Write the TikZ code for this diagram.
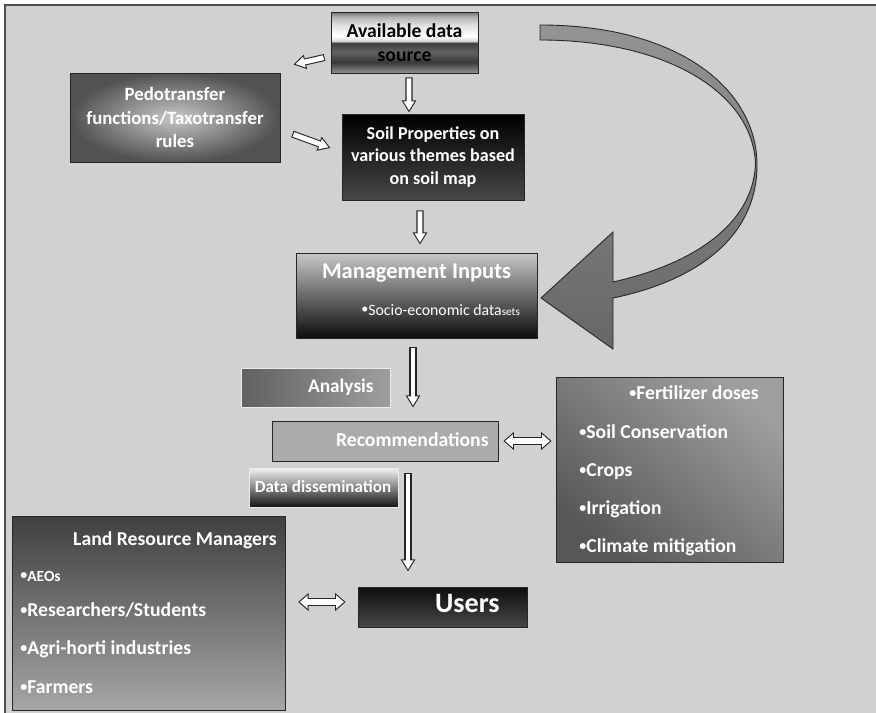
\documentclass[tikz,border=0pt]{standalone}
\usepackage{fontspec}
\setmainfont{Carlito}
\usepackage{tikz}
\usetikzlibrary{arrows.meta,shapes}

\definecolor{bg}{gray}{0.82}
\pgfdeclareverticalshading{metal}{100bp}{color(0bp)=(black!43); color(25bp)=(black!43);
  color(34bp)=(black!78); color(42bp)=(black!62); color(49.6bp)=(black!75);
  color(51.2bp)=(black!15); color(55.3bp)=(white); color(64.3bp)=(black!12);
  color(70.9bp)=(black!30); color(75bp)=(black!56); color(100bp)=(black!56)}
\newcommand{\bul}{\raisebox{0.8pt}{\fontsize{8}{8}\selectfont•}}

\begin{document}
\begin{tikzpicture}[x=0.02cm, y=-0.02cm]
\useasboundingbox (0,0) rectangle (876,713);
\fill[bg] (5,5) rectangle (876,713);
\draw[black!70, line width=0.8pt] (876,5) -- (5,5) -- (5,713);

\tikzstyle{box}=[rectangle, draw=black!85, line width=0.5pt, text=white, align=center, inner sep=0pt]
\tikzstyle{txt}=[text=white, inner sep=0pt, text height=1.5ex, text depth=.3ex,
    font=\bfseries\fontsize{11.2}{13.6}\selectfont]
\tikzstyle{hollow}=[line width=4pt, draw=black!85, -{Triangle[length=7pt,width=8pt]},
    postaction={draw=white, line width=2.8pt, shorten <=0.6pt, shorten >=1.2pt,
    -{Triangle[length=5.2pt,width=5.9pt]}}]
\tikzstyle{hollowtwo}=[line width=4.5pt, draw=black!85,
    {Triangle[length=6pt,width=10pt]}-{Triangle[length=6pt,width=10pt]},
    postaction={draw=white, line width=3.3pt, shorten <=0.94pt, shorten >=0.94pt,
    {Triangle[length=4.5pt,width=7.4pt]}-{Triangle[length=4.5pt,width=7.4pt]}}]

% top row
\node[box, shading=metal, text=black, minimum width=2.94cm, minimum height=1.22cm,
    font=\bfseries\fontsize{11.2}{13.6}\selectfont] (src) at (404.5,42.5) {Available data\\source};
\node[box, inner color=black!22, outer color=black!68, minimum width=4.2cm, minimum height=1.78cm,
    font=\bfseries\fontsize{10.7}{13.6}\selectfont] (pedo) at (175,117.5)
    {Pedotransfer\\functions/Taxotransfer\\rules};
\node[box, top color=black, bottom color=black!72, minimum width=3.64cm, minimum height=1.72cm,
    font=\bfseries\fontsize{10.3}{12.8}\selectfont] (soil) at (433,157)
    {Soil Properties on\\various themes based\\on soil map};

% middle
\node[box, top color=black!22, bottom color=black!95, minimum width=4.82cm,
    minimum height=1.7cm] (mgmt) at (416.5,295.5) {};
\node[txt, font=\bfseries\fontsize{12.8}{14}\selectfont] (mgmt-t) at (416.5,273) {Management Inputs};
\node[txt, anchor=west, font=\fontsize{9}{10}\selectfont] (mgmt-b) at (361,310)
    {\bul Socio-economic data{\fontsize{6.4}{7}\selectfont sets}};

\node[box, draw=black!8, left color=black!62, right color=black!38, minimum width=2.98cm,
    minimum height=0.78cm] (ana) at (315.5,387.5) {};
\node[txt, anchor=east, font=\bfseries\fontsize{11}{13}\selectfont] (ana-t) at (374,387.5) {Analysis};
\node[box, fill=black!33, minimum width=4.52cm, minimum height=0.8cm] (rec) at (385,441) {};
\node[txt, anchor=east] (rec-t) at (489,441) {Recommendations};
\node[box, draw=black!8, top color=black!5, bottom color=black!92, minimum width=2.98cm,
    minimum height=0.78cm] (diss) at (323.5,487.5) {};
\node[txt, font=\bfseries\fontsize{9.7}{11}\selectfont] (diss-t) at (323,487) {Data dissemination};

% right list
\node[box, top color=black!38, bottom color=black!66, shading angle=-40, minimum width=4.54cm,
    minimum height=3.7cm] (fert) at (669.5,469.5) {};
\node[txt, anchor=west] (f1) at (629,394) {\bul Fertilizer doses};
\node[txt, anchor=west] (f2) at (579,433) {\bul Soil Conservation};
\node[txt, anchor=west] (f3) at (579,471) {\bul Crops};
\node[txt, anchor=west] (f4) at (579,509) {\bul Irrigation};
\node[txt, anchor=west] (f5) at (579,547) {\bul Climate mitigation};

% bottom
\node[box, top color=black!75, bottom color=black!35, minimum width=5.47cm,
    minimum height=3.88cm] (lrm) at (149,613) {};
\node[txt, anchor=east] (l0) at (277,540) {Land Resource Managers};
\node[txt, anchor=west, font=\bfseries\fontsize{8.8}{10}\selectfont] (l1) at (20,576) {\bul AEOs};
\node[txt, anchor=west] (l2) at (20,611) {\bul Researchers/Students};
\node[txt, anchor=west] (l3) at (20,649) {\bul Agri-horti industries};
\node[txt, anchor=west] (l4) at (20,688) {\bul Farmers};
\node[box, top color=black!95, bottom color=black!72, minimum width=3.38cm,
    minimum height=0.8cm] (users) at (442.5,607) {};
\node[txt, anchor=east, font=\bfseries\fontsize{16}{18}\selectfont] (users-t) at (500,607) {Users};

% arrows
\draw[hollow] ([shift={(-6,15)}]src.west) -- ([shift={(13,-8)}]pedo.north east);
\draw[hollow] ([shift={(4.5,4)}]src.south) -- ([shift={(-24,-1)}]soil.north);
\draw[hollow] ([shift={(12,16.5)}]pedo.east) -- ([shift={(-11,-9)}]soil.west);
\draw[hollow] ([shift={(-13,10)}]soil.south) -- ([shift={(3.5,-8)}]mgmt.north);
\draw[hollow] ([shift={(-3.5,9)}]mgmt.south) -- ([shift={(28,-13)}]rec.north);
\draw[hollow] ([shift={(23,12)}]rec.south) -- ([shift={(-34.5,-15)}]users.north);
\draw[hollowtwo] ([shift={(5,0)}]rec.east) -- ([shift={(-4,-28.5)}]fert.west);
\draw[hollowtwo] ([shift={(12,-11)}]lrm.east) -- ([shift={(-12,-5)}]users.west);

% big curved arrow
\draw[black!85, line width=0.5pt, top color=black!42, bottom color=black!60]
    (540,25) .. controls (680,25) and (757,90) .. (757,165)
    .. controls (757,235) and (700,280) .. (613,298) -- (613,349) -- (541,298) -- (613,232)
    -- (613,282) .. controls (693,264) and (752,225) .. (755.5,165)
    .. controls (754,95) and (670,40) .. (540,40) -- cycle;
\end{tikzpicture}
\end{document}
